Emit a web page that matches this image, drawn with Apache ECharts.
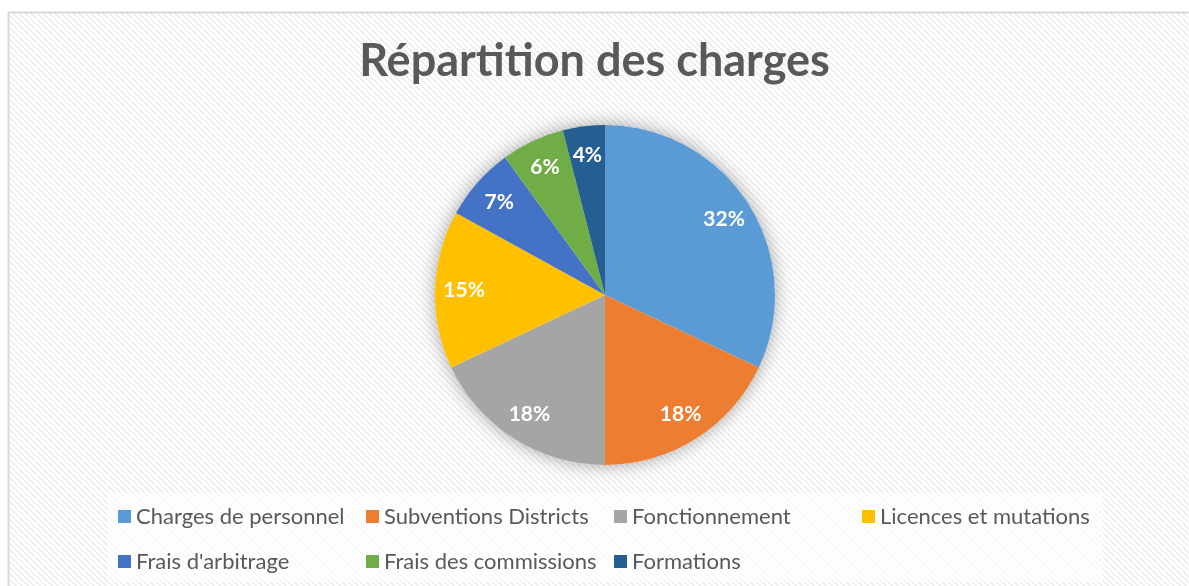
<!DOCTYPE html>
<html>
<head>
<meta charset="utf-8">
<script src="https://cdn.jsdelivr.net/npm/echarts@6/dist/echarts.min.js"></script>
<style>
  html, body { margin: 0; padding: 0; background: #fff; }
  #chart { width: 1189px; height: 586px; }
</style>
</head>
<body>
<div id="chart"></div>
<script>
const categories = [
  "Charges de personnel",
  "Subventions Districts",
  "Fonctionnement",
  "Licences et mutations",
  "Frais d'arbitrage",
  "Frais des commissions",
  "Formations"
]
const shares = [32, 18, 18, 15, 7, 6, 4]
const colors = ["#5B9BD5", "#ED7D31", "#A5A5A5", "#FFC000", "#4472C4", "#70AD47", "#255E91"]

// small diagonal hatch tile for the chart background
const makeHatch = () => {
  const c = document.createElement("canvas")
  c.width = 6
  c.height = 6
  const g = c.getContext("2d")
  g.fillStyle = "#ffffff"
  g.fillRect(0, 0, 6, 6)
  g.strokeStyle = "#ededed"
  g.lineWidth = 1.6
  for (const k of [-6, 0, 6]) {
    g.beginPath()
    g.moveTo(0, k)
    g.lineTo(6, k + 6)
    g.stroke()
  }
  return c
}

const pieData = categories.map((name, i) => ({
  name,
  value: shares[i],
  itemStyle: { color: colors[i] }
}))

const myChart = echarts.init(document.getElementById("chart"))

myChart.setOption({
  animation: false,
  graphic: [
    {
      type: "rect",
      z: -10,
      silent: true,
      shape: { x: 8.5, y: 12.5, width: 1200, height: 600 },
      style: {
        fill: { image: makeHatch(), repeat: "repeat" },
        stroke: "#d9d9d9",
        lineWidth: 2
      }
    }
  ],
  title: {
    text: "Répartition des charges",
    left: "center",
    top: 34,
    textStyle: {
      fontFamily: "Lato",
      fontWeight: "bold",
      fontSize: 45,
      color: "#595959"
    }
  },
  legend: {
    data: categories,
    left: 108,
    top: 493,
    width: 1000,
    padding: [6, 3, 3, 10],
    backgroundColor: "rgba(255,255,255,0.65)",
    icon: "rect",
    itemWidth: 13,
    itemHeight: 13,
    itemGap: 10,
    selectedMode: false,
    textStyle: {
      fontFamily: "Lato",
      fontSize: 22,
      color: "#595959",
      width: 220,
      lineHeight: 35
    }
  },
  series: [
    {
      // soft glow behind the pie
      type: "pie",
      silent: true,
      center: [605, 295],
      radius: [0, 170],
      z: 1,
      label: { show: false },
      data: [{ value: 1, name: "_bg" }],
      itemStyle: {
        color: "#ffffff",
        shadowBlur: 18,
        shadowColor: "rgba(0,0,0,0.35)"
      }
    },
    {
      name: "Répartition des charges",
      type: "pie",
      center: [605, 295],
      radius: [0, 170],
      startAngle: 90,
      z: 2,
      label: { show: false },
      labelLine: { show: false },
      emphasis: { disabled: true },
      data: pieData
    },
    {
      // label carrier so the percentages sit further out than r/2
      type: "pie",
      silent: true,
      center: [605, 295],
      radius: [0, 276],
      startAngle: 90,
      z: 3,
      itemStyle: { color: "rgba(0,0,0,0)" },
      emphasis: { disabled: true },
      labelLine: { show: false },
      label: {
        show: true,
        position: "inside",
        formatter: (p) => Math.round(p.percent) + "%",
        fontFamily: "Lato",
        fontWeight: "bold",
        fontSize: 21,
        color: "#ffffff"
      },
      data: categories.map((name, i) => ({ name, value: shares[i] }))
    }
  ]
})

window.addEventListener("resize", () => {
  myChart.resize()
})
</script>
</body>
</html>
